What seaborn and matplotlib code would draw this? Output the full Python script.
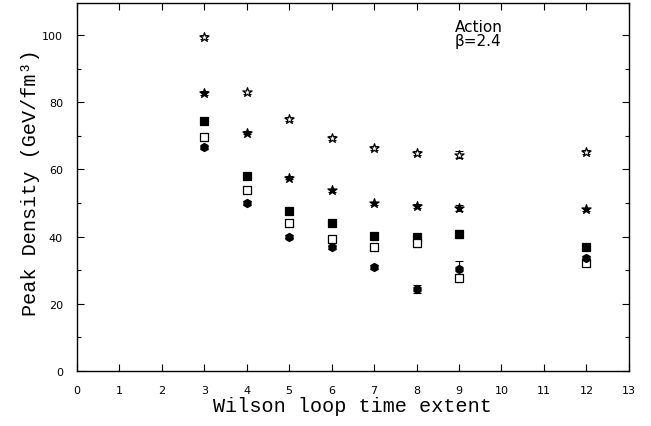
import matplotlib
matplotlib.use("Agg")
import matplotlib.pyplot as plt
import seaborn as sns
import numpy as np
import pandas as pd

# Wilson loop time extents
t_vals = [3, 4, 5, 6, 7, 8, 9, 12]

# peak action densities (GeV/fm^3)
open_star = [99.5, 83.0, 75.0, 69.4, 66.4, 64.8, 64.4, 65.2]
open_star_err = [0.6, 0.5, 0.5, 0.5, 0.5, 0.6, 1.0, 0.6]
full_star = [82.8, 71.0, 57.6, 53.8, 49.9, 49.2, 48.4, 48.1]
full_star_err = [0.5, 0.5, 0.5, 0.5, 0.5, 0.6, 0.9, 0.5]
full_square = [74.4, 58.0, 47.5, 44.0, 40.2, 39.8, 40.7, 37.0]
full_square_err = [0.5, 0.5, 0.5, 0.5, 0.6, 0.8, 1.2, 0.6]
open_square = [69.6, 54.0, 44.0, 39.3, 36.8, 38.2, 27.6, 32.2]
open_square_err = [0.5, 0.5, 0.5, 0.5, 0.7, 1.2, 1.2, 0.6]
full_circle = [66.6, 50.0, 40.0, 36.8, 31.0, 24.5, 30.5, 33.6]
full_circle_err = [0.5, 0.5, 0.5, 0.5, 0.6, 1.2, 2.3, 0.6]

series = [
    (open_star, open_star_err, '*', 'white', 48),
    (full_star, full_star_err, '*', 'black', 48),
    (full_square, full_square_err, 's', 'black', 28),
    (open_square, open_square_err, 's', 'white', 28),
    (full_circle, full_circle_err, 'h', 'black', 34),
]

sns.set_style("ticks")
plt.rcParams['font.family'] = ['DejaVu Sans']

fig = plt.figure(figsize=(6.51, 4.27), dpi=100)
ax = fig.add_axes([0.118, 0.129, 0.848, 0.861])

for vals, errs, mk, face, size in series:
    df = pd.DataFrame({'t': t_vals, 'rho': vals})
    ax.errorbar(df['t'], df['rho'], yerr=errs, fmt='none', ecolor='black',
                elinewidth=0.8, capsize=3, capthick=0.8, zorder=2)
    sns.scatterplot(data=df, x='t', y='rho', marker=mk, s=size, ax=ax,
                    facecolor=face, edgecolor='black', linewidth=0.9, zorder=3)

ax.set_xlim(0, 13)
ax.set_ylim(0, 109.5)
ax.set_xticks(range(0, 14))
ax.set_yticks(range(0, 101, 20))
ax.set_yticks(range(0, 110, 10), minor=True)
ax.tick_params(direction='in', top=True, right=True, which='both',
               labelsize=8, length=5, width=0.8, colors='black', pad=10)
ax.tick_params(which='minor', length=3)
for s in ax.spines.values():
    s.set_linewidth(1.0)
    s.set_color('black')

lab_font = dict(family=['Liberation Mono', 'DejaVu Sans Mono'], fontsize=14.5,
                color='black')
ax.set_xlabel('Wilson loop time extent', labelpad=1, **lab_font)
ax.set_ylabel('Peak Density (GeV/fm³)', **lab_font)
ax.yaxis.set_label_coords(-0.067, 0.515)

ax.text(8.9, 100.5, 'Action\n\u03b2=2.4', fontsize=11, va='center',
        ha='left', linespacing=0.95, color='black')

fig.savefig('out.png', dpi=100)
